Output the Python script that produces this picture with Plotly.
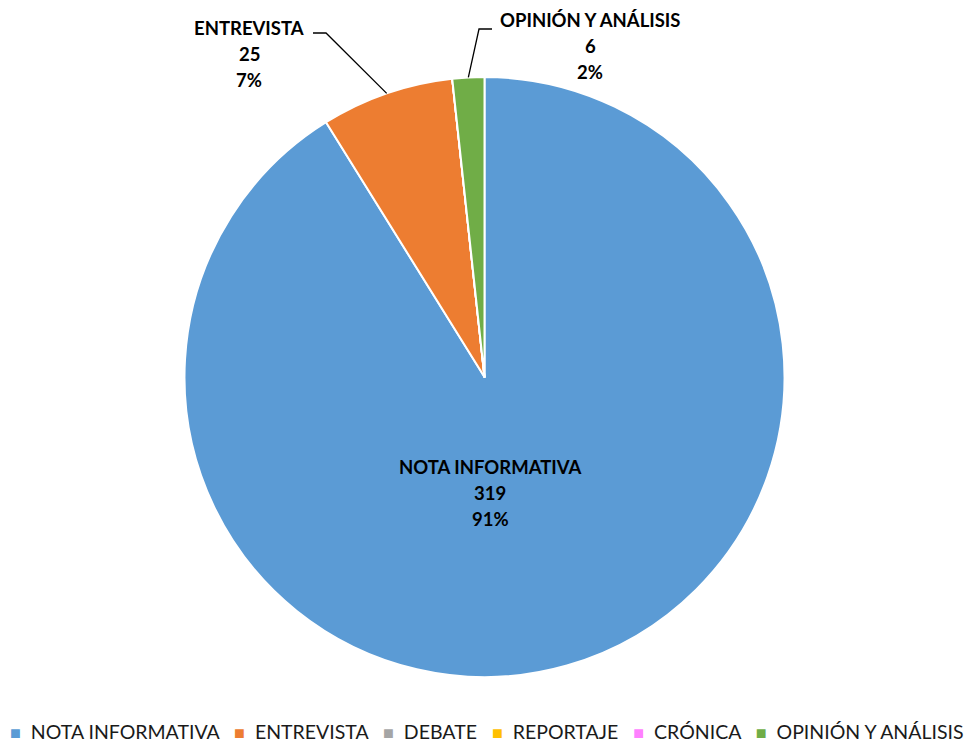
import math
import plotly.graph_objects as go

W, H = 973, 742

categories = ["NOTA INFORMATIVA", "ENTREVISTA", "DEBATE", "REPORTAJE", "CRÓNICA", "OPINIÓN Y ANÁLISIS"]
values = [319, 25, 0, 0, 0, 6]
colors = ["#5B9BD5", "#ED7D31", "#A5A5A5", "#FFC000", "#FF80FF", "#70AD47"]

# pie geometry in pixels (styling)
cx, cy, R = 484.5, 377, 300

total = sum(values)
mids = []
cum = 0
for v in values:
    mids.append((cum + v / 2) / total * 360)
    cum += v


def px(x):
    return x / W


def py(y):
    return 1 - y / H


fig = go.Figure(go.Pie(
    labels=categories, values=values, sort=False, direction="clockwise",
    marker=dict(colors=colors, line=dict(color="white", width=2)),
    textinfo="none", hoverinfo="label+value+percent",
    domain=dict(x=[px(cx - R), px(cx + R)], y=[py(cy + R), py(cy - R)]),
    showlegend=False,
))

# label layout (text center, leader elbow, leader end) per shown slice
label_layout = {
    0: dict(center=(490, 467)),
    1: dict(center=(249, 28), elbow=(326, 33), end=(313, 33)),
    5: dict(center=(590, 20), elbow=(479, 29), end=(492, 29)),
}
line_gap = 26
annotations = []
shapes = []
FAM = "Lato, Carlito, Calibri, sans-serif"
font = dict(family=FAM, size=18.5, color="black")
for i, lay in label_layout.items():
    pct = round(values[i] / total * 100)
    lines = [categories[i], str(values[i]), f"{pct}%"]
    x0, y0 = lay["center"]
    for k, t in enumerate(lines):
        annotations.append(dict(
            x=px(x0), y=py(y0 + k * line_gap), xref="paper", yref="paper",
            text=f"<b>{t}</b>", showarrow=False, font=font,
            xanchor="center", yanchor="middle"))
    if "elbow" in lay:
        a = math.radians(mids[i])
        ax_, ay_ = cx + R * math.sin(a), cy - R * math.cos(a)
        ex, ey = lay["elbow"]
        tx, ty = lay["end"]
        shapes.append(dict(
            type="path", xref="paper", yref="paper",
            path=f"M {px(ax_)},{py(ay_)} L {px(ex)},{py(ey)} L {px(tx)},{py(ty)}",
            line=dict(color="black", width=1.3)))

# Excel-style legend line built from the categories and colours
NB = "\u00a0"
items = [f"<span style='color:{c};font-size:18px'>■</span>{NB * 2}{name}"
         for name, c in zip(categories, colors)]
legend_text = (NB * 3).join(items)
annotations.append(dict(
    x=0.5, y=py(731), xref="paper", yref="paper", text=legend_text,
    showarrow=False, xanchor="center", yanchor="middle",
    font=dict(family=FAM, size=19.5, color="#1a1a1a")))

fig.update_layout(
    width=W, height=H, margin=dict(l=0, r=0, t=0, b=0, autoexpand=False),
    paper_bgcolor="white", plot_bgcolor="white",
    annotations=annotations, shapes=shapes,
    showlegend=False,
)

fig.write_html("out.html", config={"displayModeBar": False},
               post_script="document.body.style.margin='0';")
